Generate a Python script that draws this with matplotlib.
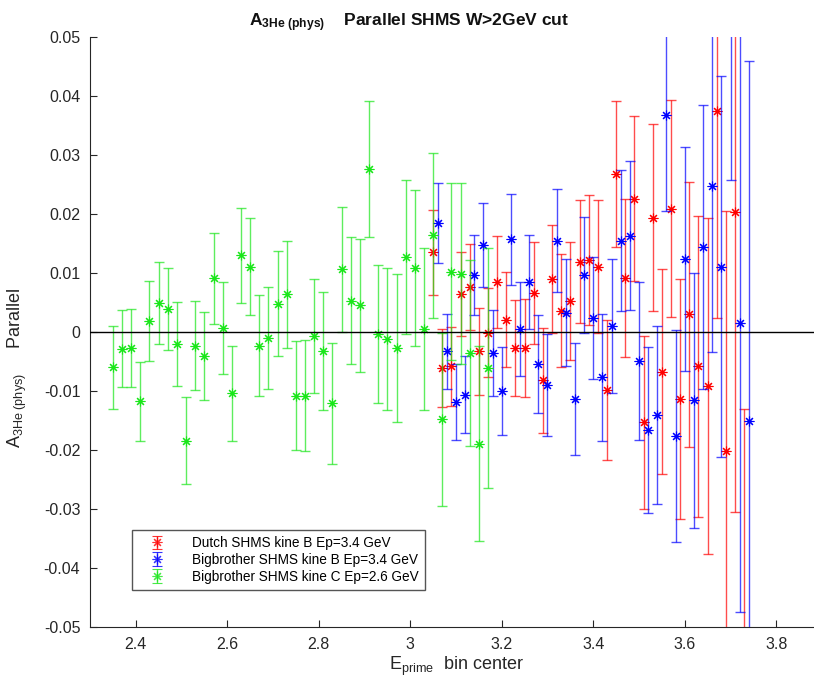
import numpy as np
import matplotlib
matplotlib.use("Agg")
import matplotlib.pyplot as plt

# Bigbrother SHMS kine C, Ep=2.6 GeV (green)
x_c = [2.35, 2.37, 2.39, 2.41, 2.43, 2.45, 2.47, 2.49, 2.51, 2.53,
       2.55, 2.57, 2.59, 2.61, 2.63, 2.65, 2.67, 2.69, 2.71, 2.73,
       2.75, 2.77, 2.79, 2.81, 2.83, 2.85, 2.87, 2.89, 2.91, 2.93,
       2.95, 2.97, 2.99, 3.01, 3.03, 3.05, 3.07, 3.09, 3.11, 3.13,
       3.15, 3.17]
y_c = [-0.0060, -0.0028, -0.0027, -0.0117, 0.0019, 0.0049, 0.0039, -0.0020, -0.0184, -0.0023,
       -0.0041, 0.0091, 0.0007, -0.0104, 0.0130, 0.0111, -0.0023, -0.0010, 0.0048, 0.0064,
       -0.0108, -0.0108, -0.0007, -0.0032, -0.0121, 0.0106, 0.0053, 0.0045, 0.0276, -0.0004,
       -0.0012, -0.0027, 0.0127, 0.0108, 0.0005, 0.0164, -0.0148, 0.0102, 0.0099, -0.0036,
       -0.0189, -0.0061]
e_c = [0.0071, 0.0065, 0.0066, 0.0067, 0.0068, 0.0070, 0.0070, 0.0071, 0.0073, 0.0075,
       0.0075, 0.0077, 0.0078, 0.0080, 0.0081, 0.0082, 0.0085, 0.0086, 0.0089, 0.0091,
       0.0092, 0.0094, 0.0097, 0.0100, 0.0102, 0.0106, 0.0108, 0.0112, 0.0115, 0.0117,
       0.0121, 0.0126, 0.0130, 0.0132, 0.0138, 0.0140, 0.0147, 0.0150, 0.0153, 0.0158,
       0.0165, 0.0204]

# Bigbrother SHMS kine B, Ep=3.4 GeV (blue)
x_b = [3.06, 3.08, 3.10, 3.12, 3.14, 3.16, 3.18, 3.20, 3.22, 3.24,
       3.26, 3.28, 3.30, 3.32, 3.34, 3.36, 3.38, 3.40, 3.42, 3.44,
       3.46, 3.48, 3.50, 3.52, 3.54, 3.56, 3.58, 3.60, 3.62, 3.64,
       3.66, 3.68, 3.70, 3.72, 3.74]
y_b = [0.0185, -0.0033, -0.0119, -0.0106, 0.0097, 0.0148, -0.0035, -0.0100, 0.0157, 0.0005,
       0.0085, -0.0054, -0.0090, 0.0155, 0.0033, -0.0114, 0.0097, 0.0024, -0.0077, 0.0010,
       0.0155, 0.0163, -0.0049, -0.0166, -0.0140, 0.0367, -0.0176, 0.0124, -0.0116, 0.0144,
       0.0247, 0.0111, 0.0660, 0.0015, -0.0151]
e_b = [0.0068, 0.0063, 0.0064, 0.0066, 0.0068, 0.0071, 0.0073, 0.0074, 0.0077, 0.0079,
       0.0080, 0.0083, 0.0086, 0.0088, 0.0091, 0.0095, 0.0098, 0.0103, 0.0108, 0.0113,
       0.0119, 0.0126, 0.0134, 0.0141, 0.0151, 0.0162, 0.0180, 0.0190, 0.0216, 0.0241,
       0.0281, 0.0323, 0.0402, 0.0490, 0.0610]

# Dutch SHMS kine B, Ep=3.4 GeV (red)
x_d = [3.05, 3.07, 3.09, 3.11, 3.13, 3.15, 3.17, 3.19, 3.21, 3.23,
       3.25, 3.27, 3.29, 3.31, 3.33, 3.35, 3.37, 3.39, 3.41, 3.43,
       3.45, 3.47, 3.49, 3.51, 3.53, 3.55, 3.57, 3.59, 3.61, 3.63,
       3.65, 3.67, 3.69, 3.71, 3.73]
y_d = [0.0135, -0.0061, -0.0058, 0.0065, 0.0077, -0.0033, -0.0001, 0.0084, 0.0021, -0.0027,
       -0.0027, 0.0066, -0.0082, 0.0090, 0.0036, 0.0053, 0.0119, 0.0122, 0.0111, -0.0098,
       0.0268, 0.0091, 0.0226, -0.0153, 0.0194, -0.0067, 0.0209, -0.0114, 0.0030, -0.0058,
       -0.0091, 0.0374, -0.0202, 0.0204, -0.0680]
e_d = [0.0072, 0.0066, 0.0067, 0.0071, 0.0073, 0.0074, 0.0076, 0.0078, 0.0081, 0.0082,
       0.0083, 0.0087, 0.0089, 0.0092, 0.0096, 0.0100, 0.0104, 0.0110, 0.0112, 0.0119,
       0.0124, 0.0134, 0.0140, 0.0147, 0.0159, 0.0174, 0.0184, 0.0203, 0.0225, 0.0255,
       0.0285, 0.0350, 0.0407, 0.0509, 0.0550]

labels = ["Dutch SHMS kine B Ep=3.4 GeV",
          "Bigbrother SHMS kine B Ep=3.4 GeV",
          "Bigbrother SHMS kine C Ep=2.6 GeV"]

x_ticks = [2.4, 2.6, 2.8, 3.0, 3.2, 3.4, 3.6, 3.8]
x_ticklabels = ["2.4", "2.6", "2.8", "3", "3.2", "3.4", "3.6", "3.8"]
y_ticks = [-0.05, -0.04, -0.03, -0.02, -0.01, 0, 0.01, 0.02, 0.03, 0.04, 0.05]
y_ticklabels = ["-0.05", "-0.04", "-0.03", "-0.02", "-0.01", "0",
                "0.01", "0.02", "0.03", "0.04", "0.05"]

plt.rcParams['font.family'] = ['Liberation Sans', 'DejaVu Sans']
plt.rcParams['mathtext.fontset'] = 'custom'
plt.rcParams['mathtext.rm'] = 'Liberation Sans'
plt.rcParams['mathtext.it'] = 'Liberation Sans:italic'
plt.rcParams['mathtext.bf'] = 'Liberation Sans:bold'

fig = plt.figure(figsize=(8.14, 6.84), dpi=100)
ax = fig.add_axes([90 / 814, 57 / 684, 732 / 814, 590 / 684])

star = (8, 2, 0)
series = [(x_d, y_d, e_d, (1, 0, 0)),
          (x_b, y_b, e_b, (0, 0, 1)),
          (x_c, y_c, e_c, (0.1, 0.9, 0.1))]
for xs, ys, es, col in series:
    ax.errorbar(xs, ys, yerr=es, fmt='none', ecolor=col, elinewidth=1.0,
                capsize=3.5, capthick=1.0, alpha=0.7)
    ax.plot(xs, ys, linestyle='none', marker=star, markersize=7,
            markeredgewidth=0.8, color=col)

ax.axhline(0, color='k', lw=1.0, zorder=5)

# legend handles: errorbar with marker
handles = []
for xs, ys, es, col in series:
    h = ax.errorbar([np.nan], [np.nan], yerr=[0.01], color=col, marker=star,
                    markersize=7, markeredgewidth=0.8, linestyle='none',
                    capsize=3.5, elinewidth=1.0, alpha=0.8)
    handles.append(h)
ax.legend(handles, labels, loc='lower left', bbox_to_anchor=(0.057, 0.063),
          fontsize=9.8, frameon=True, fancybox=False, edgecolor='#555555',
          framealpha=1, borderpad=0.45, handlelength=2.8, handletextpad=1.2,
          labelspacing=0.2, borderaxespad=0)

ax.set_xlim(2.3, 3.9)
ax.set_ylim(-0.05, 0.05)
ax.set_xticks(x_ticks)
ax.set_xticklabels(x_ticklabels)
ax.set_yticks(y_ticks)
ax.set_yticklabels(y_ticklabels)

for side in ['top', 'right']:
    ax.spines[side].set_visible(False)
for side in ['left', 'bottom']:
    ax.spines[side].set_color('#262626')
ax.tick_params(direction='in', length=5, colors='#262626', labelsize=11.5,
               labelcolor='#262626', pad=7)

ax.set_title(r"$\mathbf{A_{3He\ (phys)}}$    Parallel SHMS W>2GeV cut",
             fontsize=12.5, fontweight='bold', x=0.436, pad=8, color='#111111')
ax.set_xlabel(r"$\mathrm{E_{prime}}$  bin center", fontsize=13, color='#262626')
ax.set_ylabel(r"$\mathrm{A_{3He\ (phys)}}$     Parallel", fontsize=13, color='#262626')
ax.yaxis.set_label_coords(-0.083, 0.44)
ax.xaxis.set_label_coords(0.5, -0.047)

fig.savefig("out.png", dpi=100)
